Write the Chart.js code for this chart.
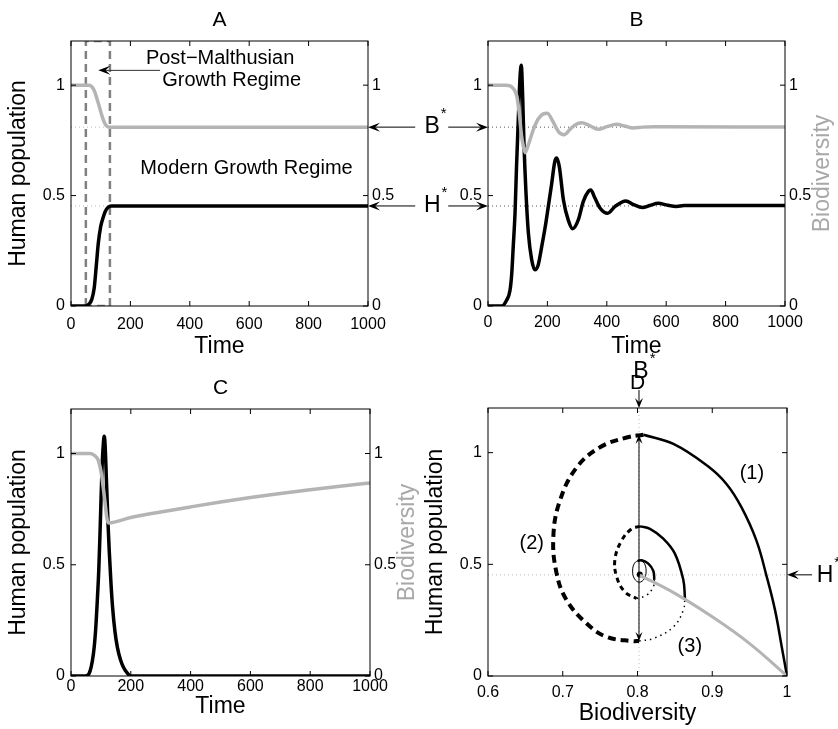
<!DOCTYPE html>
<html>
<head>
<meta charset="utf-8">
<title>Human population and biodiversity</title>
<script src="https://cdn.jsdelivr.net/npm/chart.js@4.4.1/dist/chart.umd.min.js"></script>
<style>
  body { margin: 0; background: #fff; }
  #fig { position: relative; width: 838px; height: 729px; }
  #fig canvas { position: absolute; left: 0; top: 0; }
</style>
</head>
<body>
<div id="fig">
  <canvas id="panelA" width="838" height="729"></canvas>
  <canvas id="panelB" width="838" height="729"></canvas>
  <canvas id="panelC" width="838" height="729"></canvas>
  <canvas id="panelD" width="838" height="729"></canvas>
</div>
<script>
// ---- tick labels ----
const timeTicks = [0, 200, 400, 600, 800, 1000];
const popTicks = [0, 0.5, 1];
const bioTicks = [0.6, 0.7, 0.8, 0.9, 1];

// equilibria
const bStar = 0.81;
const bStarD = 0.802;
const hStar = 0.453;

// ---- A: smooth transition ----
const timeA_H = [0, 47, 60, 70, 78, 85, 92, 100, 108, 116, 125, 135, 1000];
const popA = [0, 0, 0.008, 0.03, 0.08, 0.18, 0.285, 0.36, 0.40, 0.43, 0.447, 0.453, 0.453];
const timeA_B = [0, 62, 72, 80, 88, 96, 104, 112, 120, 130, 1000];
const bioA = [1, 1, 0.99, 0.97, 0.935, 0.9, 0.862, 0.832, 0.815, 0.81, 0.81];
// post-malthusian window
const boxTime = [50, 50, 131, 131, 50];
const boxLevel = [0, 1.2, 1.2, 0, 0];

// ---- B: damped oscillations ----
const timeB_H = [0, 46, 63, 74, 80, 85, 91, 96, 102, 108, 112, 117, 121, 128, 136, 147, 158, 169, 181, 192, 203, 214, 225, 231, 240, 254, 270, 285, 304, 321, 338, 346, 360, 377, 403, 428, 464, 490, 520, 545, 573, 605, 635, 660, 1000];
const popB = [0, 0, 0.027, 0.07, 0.148, 0.27, 0.42, 0.63, 0.845, 1.04, 1.09, 0.936, 0.74, 0.51, 0.33, 0.21, 0.164, 0.186, 0.27, 0.353, 0.45, 0.55, 0.655, 0.67, 0.632, 0.48, 0.39, 0.35, 0.39, 0.474, 0.519, 0.525, 0.489, 0.444, 0.42, 0.451, 0.476, 0.459, 0.446, 0.455, 0.465, 0.456, 0.451, 0.455, 0.455];
const timeB_B = [0, 60, 74, 85, 97, 105, 113, 119, 125, 136, 153, 169, 186, 200, 218, 237, 256, 276, 293, 315, 340, 371, 400, 433, 460, 489, 520, 560, 1000];
const bioB = [1, 1, 0.997, 0.985, 0.95, 0.875, 0.77, 0.724, 0.694, 0.731, 0.80, 0.847, 0.87, 0.873, 0.837, 0.79, 0.776, 0.80, 0.82, 0.83, 0.818, 0.80, 0.812, 0.823, 0.815, 0.806, 0.81, 0.812, 0.81];

// ---- C: collapse ----
const timeC_H = [0, 47, 60, 75, 82, 88, 93, 97, 101, 104, 108, 111, 114, 119, 124, 128, 134, 139, 147, 155, 165, 175, 187, 200, 1000];
const popC = [0, 0, 0.01, 0.10, 0.2, 0.34, 0.48, 0.64, 0.82, 0.94, 1.04, 1.077, 1.04, 0.86, 0.68, 0.56, 0.41, 0.31, 0.2, 0.13, 0.075, 0.04, 0.015, 0, 0];
const timeC_B = [0, 64, 80, 91, 102, 113, 120, 125, 200, 300, 400, 500, 600, 700, 800, 900, 1000];
const bioC = [1, 1, 0.99, 0.97, 0.905, 0.79, 0.71, 0.688, 0.712, 0.737, 0.76, 0.782, 0.802, 0.82, 0.837, 0.853, 0.868];

// ---- D: phase plane, one pair per line style ----
const d1Bio = [1.0, 0.993, 0.984, 0.973, 0.959, 0.939, 0.919, 0.893, 0.848, 0.808];
const d1Pop = [0.0, 0.13, 0.295, 0.443, 0.607, 0.756, 0.86, 0.942, 1.039, 1.08];
const d2Bio = [0.808, 0.7855, 0.7498, 0.7187, 0.6963, 0.6874, 0.6919, 0.7053, 0.732, 0.7588, 0.7944, 0.802];
const d2Pop = [1.08, 1.068, 1.024, 0.934, 0.786, 0.622, 0.458, 0.339, 0.235, 0.175, 0.156, 0.157];
const d3Bio = [0.802, 0.8212, 0.848, 0.8613, 0.8635];
const d3Pop = [0.157, 0.168, 0.22, 0.295, 0.347];
const d4Bio = [0.8635, 0.8613, 0.85, 0.8345, 0.8167, 0.8033];
const d4Pop = [0.347, 0.43, 0.548, 0.615, 0.659, 0.67];
const d5Bio = [0.8033, 0.7922, 0.7789, 0.7699, 0.7722, 0.7833, 0.7989];
const d5Pop = [0.67, 0.659, 0.607, 0.525, 0.443, 0.376, 0.347];
const d6Bio = [0.7989, 0.8123, 0.8212, 0.8225];
const d6Pop = [0.347, 0.362, 0.399, 0.43];
const d7Bio = [0.8225, 0.8212, 0.8145, 0.8056, 0.80];
const d7Pop = [0.43, 0.47, 0.503, 0.518, 0.515];
const loopBio = [0.8025, 0.809, 0.8115, 0.809, 0.8025, 0.796, 0.7935, 0.796, 0.8025];
const loopPop = [0.52, 0.505, 0.47, 0.435, 0.42, 0.435, 0.47, 0.505, 0.52];
// case A seen in the phase plane
const grayBio = [0.803, 0.85, 0.90, 0.95, 1.0];
const grayPop = [0.452, 0.37, 0.265, 0.145, 0.0];

Chart.defaults.font.family = '"Liberation Sans", Arial, Helvetica, sans-serif';
Chart.defaults.color = '#000';

const FONT = '"Liberation Sans", Arial, sans-serif';
const GREY = '#b4b4b4';

const pts = (xs, ys) => xs.map((x, i) => ({ x: x, y: ys[i] }));

function curve(xs, ys, color, width, extra) {
    return Object.assign({
        data: pts(xs, ys),
        showLine: true,
        borderColor: color,
        borderWidth: width,
        pointRadius: 0,
        fill: false,
        cubicInterpolationMode: 'monotone'
    }, extra || {});
}

// straight segments, no smoothing
const straight = (dash, order) => ({ cubicInterpolationMode: 'default', tension: 0, borderDash: dash || [], order: order || 0 });
// smooth path that may turn back on itself
const smooth = (dash) => ({ cubicInterpolationMode: 'default', tension: 0.4, borderDash: dash || [] });

const fixedTicks = values => s => { s.ticks = values.map(v => ({ value: v })); };
const fmt = v => String(+(+v).toFixed(3));

function buildScales(o) {
    return {
        x: {
            type: 'linear', min: o.xMin, max: o.xMax,
            afterBuildTicks: fixedTicks(o.xTicks),
            afterFit: s => { s.height = o.xH; },
            grid: { display: false, drawTicks: false },
            border: { display: false },
            ticks: { padding: o.xPad, font: { size: 16 }, maxRotation: 0, autoSkip: false, callback: fmt },
            title: { display: true, text: o.xTitle, font: { size: 23 }, padding: { top: 0, bottom: o.xTitlePad } }
        },
        y: {
            type: 'linear', min: 0, max: 1.2,
            afterBuildTicks: fixedTicks(popTicks),
            afterFit: s => { s.width = o.yW; },
            grid: { display: false, drawTicks: false },
            border: { display: false },
            ticks: { padding: 6, font: { size: 16 }, callback: fmt },
            title: { display: !!o.yTitle, text: o.yTitle || '', font: { size: 23 }, padding: { top: o.yTitlePad || 0, bottom: 0 } }
        },
        y2: {
            type: 'linear', position: 'right', min: 0, max: 1.2,
            afterBuildTicks: fixedTicks(popTicks),
            afterFit: s => { s.width = o.y2W; },
            grid: { display: false, drawTicks: false },
            border: { display: false },
            ticks: { display: o.y2Labels !== false, padding: 4, font: { size: 16 }, callback: fmt }
        }
    };
}

function panel(id, o) {
    return new Chart(document.getElementById(id), {
        type: 'scatter',
        data: { datasets: o.datasets },
        options: {
            responsive: false,
            animation: false,
            layout: { padding: o.pad, autoPadding: false },
            plugins: {
                legend: { display: false },
                tooltip: { enabled: false },
                title: { display: true, text: o.title, fullSize: false, color: '#000',
                         font: { size: 21, weight: 'normal' }, padding: o.titlePad }
            },
            scales: buildScales(o)
        },
        plugins: o.plugins || []
    });
}

// box around the plot with matlab style inward ticks
Chart.register({
    id: 'boxTicks',
    afterDatasetsDraw(chart) {
        const { ctx, chartArea: a, scales: { x, y } } = chart;
        ctx.save();
        ctx.strokeStyle = '#000';
        ctx.lineWidth = 1;
        ctx.strokeRect(a.left, a.top, a.width, a.height);
        ctx.beginPath();
        x.ticks.forEach(t => {
            const p = x.getPixelForValue(t.value);
            ctx.moveTo(p, a.bottom); ctx.lineTo(p, a.bottom - 5);
            ctx.moveTo(p, a.top); ctx.lineTo(p, a.top + 5);
        });
        y.ticks.forEach(t => {
            const p = y.getPixelForValue(t.value);
            ctx.moveTo(a.left, p); ctx.lineTo(a.left + 5, p);
            ctx.moveTo(a.right, p); ctx.lineTo(a.right - 5, p);
        });
        ctx.stroke();
        ctx.restore();
    }
});

function arrow(ctx, x1, y1, x2, y2, len, half) {
    len = len || 12; half = half || 4.5;
    const ang = Math.atan2(y2 - y1, x2 - x1);
    ctx.beginPath();
    ctx.moveTo(x1, y1);
    ctx.lineTo(x2 - Math.cos(ang) * len * 0.6, y2 - Math.sin(ang) * len * 0.6);
    ctx.stroke();
    ctx.save();
    ctx.translate(x2, y2);
    ctx.rotate(ang);
    ctx.beginPath();
    ctx.moveTo(0, 0);
    ctx.lineTo(-len, -half);
    ctx.lineTo(-len * 0.6, 0);
    ctx.lineTo(-len, half);
    ctx.closePath();
    ctx.fill();
    ctx.restore();
}

function starLabel(ctx, letter, cx, cy) {
    ctx.font = '23px ' + FONT;
    ctx.textAlign = 'center';
    ctx.textBaseline = 'middle';
    ctx.fillText(letter, cx, cy);
    const w = ctx.measureText(letter).width;
    ctx.font = '15px ' + FONT;
    ctx.textAlign = 'left';
    ctx.fillText('*', cx + w / 2 + 1, cy - 13);
}

function rightTitle(chart, text) {
    const { ctx, chartArea: a } = chart;
    ctx.save();
    ctx.translate(a.right + 38, (a.top + a.bottom) / 2);
    ctx.rotate(-Math.PI / 2);
    ctx.font = '23px ' + FONT;
    ctx.fillStyle = '#a8a8a8';
    ctx.textAlign = 'center';
    ctx.textBaseline = 'middle';
    ctx.fillText(text, 0, 0);
    ctx.restore();
}

// ---------- A ----------
const notesA = {
    id: 'notesA',
    afterDraw(chart) {
        const { ctx, scales: { x, y } } = chart;
        ctx.save();
        ctx.fillStyle = '#000';
        ctx.font = '20px ' + FONT;
        ctx.textAlign = 'center';
        ctx.textBaseline = 'middle';
        ctx.fillText('Post\u2212Malthusian', x.getPixelForValue(502), y.getPixelForValue(1.121));
        ctx.fillText('Growth Regime', x.getPixelForValue(541), y.getPixelForValue(1.02));
        ctx.fillText('Modern Growth Regime', x.getPixelForValue(591), y.getPixelForValue(0.622));
        ctx.strokeStyle = '#333';
        ctx.lineWidth = 1;
        arrow(ctx, x.getPixelForValue(300), y.getPixelForValue(1.067), x.getPixelForValue(92), y.getPixelForValue(1.067));
        ctx.restore();
    }
};

const chartA = panel('panelA', {
    title: 'A',
    pad: { left: 0, top: 0, right: 419, bottom: 365 },
    titlePad: { top: 8, bottom: 7.8 },
    xMin: 0, xMax: 1000, xTicks: timeTicks, xH: 58, xPad: 9.4, xTitle: 'Time', xTitlePad: 4,
    yW: 71, yTitle: 'Human population', yTitlePad: 5, y2W: 51,
    datasets: [
        curve([0, 1000], [bStar, bStar], '#bbb', 1, straight([1, 3], 5)),
        curve([0, 1000], [hStar, hStar], '#bbb', 1, straight([1, 3], 5)),
        curve(boxTime, boxLevel, '#808080', 2.5, straight([8, 5], 1)),
        curve(timeA_B, bioA, GREY, 3.5),
        curve(timeA_H, popA, '#000', 3.5)
    ],
    plugins: [notesA]
});

// ---------- B ----------
const notesB = {
    id: 'notesB',
    afterDraw(chart) {
        const { ctx, chartArea: a, scales: { y } } = chart;
        const left = chartA.chartArea.right;
        const cx = left + (a.left - left) * 0.535;
        ctx.save();
        ctx.fillStyle = '#000';
        ctx.strokeStyle = '#000';
        ctx.lineWidth = 1;
        [['B', bStar], ['H', hStar]].forEach(([letter, v]) => {
            const py = y.getPixelForValue(v);
            arrow(ctx, cx - 17, py, left, py);
            arrow(ctx, cx + 16, py, a.left, py);
            starLabel(ctx, letter, cx, py);
        });
        ctx.restore();
        rightTitle(chart, 'Biodiversity');
    }
};

const chartB = panel('panelB', {
    title: 'B',
    pad: { left: 420, top: 0, right: 0, bottom: 365 },
    titlePad: { top: 8, bottom: 7.8 },
    xMin: 0, xMax: 1000, xTicks: timeTicks, xH: 58, xPad: 7.4, xTitle: 'Time', xTitlePad: 4,
    yW: 68, y2W: 53,
    datasets: [
        curve([0, 1000], [bStar, bStar], '#555', 1, straight([1, 3], 5)),
        curve([0, 1000], [hStar, hStar], '#555', 1, straight([1, 3], 5)),
        curve(timeB_B, bioB, GREY, 3.5),
        curve(timeB_H, popB, '#000', 3.5)
    ],
    plugins: [notesB]
});

// ---------- C ----------
const chartC = panel('panelC', {
    title: 'C',
    pad: { left: 0, top: 364, right: 419, bottom: 0 },
    titlePad: { top: 11.4, bottom: 8.4 },
    xMin: 0, xMax: 1000, xTicks: timeTicks, xH: 53, xPad: 1.4, xTitle: 'Time', xTitlePad: 9,
    yW: 71, yTitle: 'Human population', yTitlePad: 5, y2W: 49,
    datasets: [
        curve(timeC_B, bioC, GREY, 3.5),
        curve(timeC_H, popC, '#000', 3.5)
    ],
    plugins: [{ id: 'notesC', afterDraw: chart => rightTitle(chart, 'Biodiversity') }]
});

// ---------- D ----------
const notesD = {
    id: 'notesD',
    afterDraw(chart) {
        const { ctx, chartArea: a, scales: { x, y } } = chart;
        const bx = x.getPixelForValue(bStarD);
        const hy = y.getPixelForValue(hStar);
        ctx.save();
        ctx.fillStyle = '#000';
        ctx.strokeStyle = '#000';
        ctx.lineWidth = 1;
        // amplitude of the first swing
        const mid = y.getPixelForValue(0.62);
        arrow(ctx, bx, mid, bx, y.getPixelForValue(1.08), 9, 3.5);
        arrow(ctx, bx, mid, bx, y.getPixelForValue(0.157), 9, 3.5);
        // equilibrium markers
        arrow(ctx, bx, a.top - 18, bx, a.top, 10, 4);
        starLabel(ctx, 'B', bx + 2, a.top - 36);
        arrow(ctx, a.right + 25, hy, a.right, hy, 12, 4.5);
        starLabel(ctx, 'H', a.right + 38, hy + 1);
        // trajectory labels
        ctx.font = '20px ' + FONT;
        ctx.textAlign = 'center';
        ctx.textBaseline = 'middle';
        ctx.fillText('(1)', x.getPixelForValue(0.953), y.getPixelForValue(0.905));
        ctx.fillText('(2)', x.getPixelForValue(0.6585), y.getPixelForValue(0.592));
        ctx.fillText('(3)', x.getPixelForValue(0.870), y.getPixelForValue(0.131));
        ctx.restore();
    }
};

const dashed = [8, 5];
const dotted = [1.5, 4];

const chartD = panel('panelD', {
    title: 'D',
    pad: { left: 405, top: 364, right: 0, bottom: 0 },
    titlePad: { top: 6.4, bottom: 12.4 },
    xMin: 0.6, xMax: 1, xTicks: bioTicks, xH: 53, xPad: 7.4, xTitle: 'Biodiversity', xTitlePad: 1.5,
    yW: 83, yTitle: 'Human population', yTitlePad: 17, y2W: 51, y2Labels: false,
    datasets: [
        curve([0.6, 1], [hStar, hStar], '#bbb', 1, straight([1, 3], 5)),
        curve([bStarD, bStarD], [0, 1.2], '#bbb', 1, straight([1, 3], 5)),
        curve(grayBio, grayPop, GREY, 3, smooth()),
        curve(d1Bio, d1Pop, '#000', 2.5, smooth()),
        curve(d2Bio, d2Pop, '#000', 4, smooth(dashed)),
        curve(d3Bio, d3Pop, '#000', 1.5, smooth(dotted)),
        curve(d4Bio, d4Pop, '#000', 2.5, smooth()),
        curve(d5Bio, d5Pop, '#000', 3, smooth([5, 4])),
        curve(d6Bio, d6Pop, '#000', 1.5, smooth(dotted)),
        curve(d7Bio, d7Pop, '#000', 2.5, smooth()),
        curve(loopBio, loopPop, '#000', 1, smooth()),
        { data: pts([0.803], [0.455]), pointRadius: 3, pointBackgroundColor: '#000', pointBorderWidth: 0 }
    ],
    plugins: [notesD]
});
</script>
</body>
</html>
